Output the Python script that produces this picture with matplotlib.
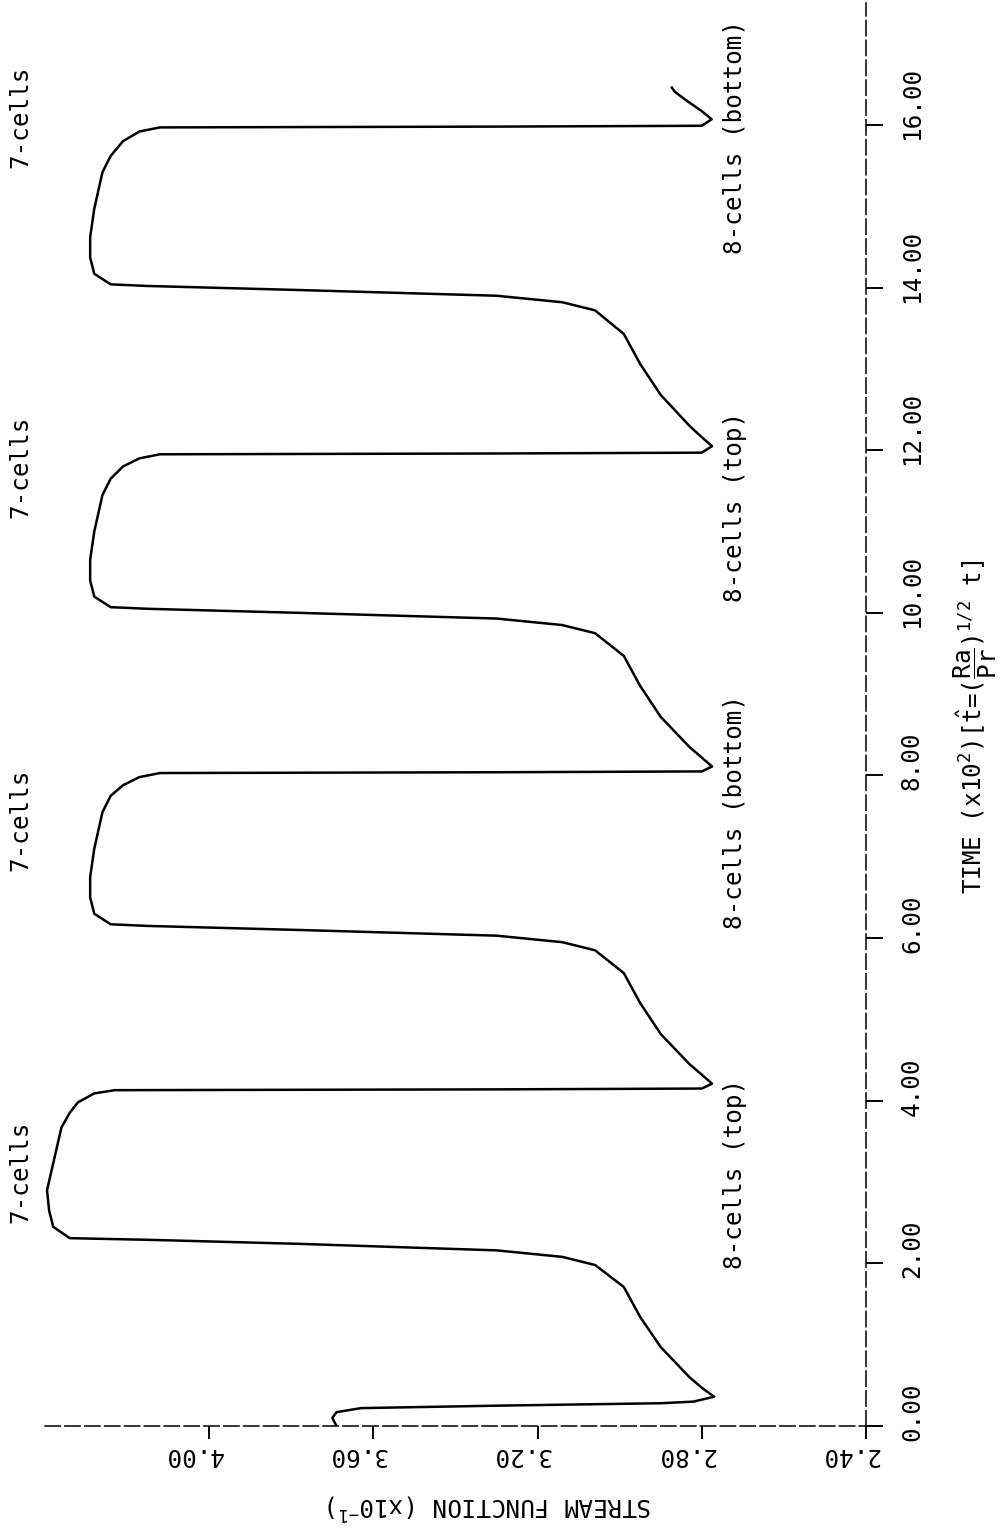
import numpy as np
import matplotlib
matplotlib.use("Agg")
import matplotlib.pyplot as plt
from matplotlib.transforms import blended_transform_factory, ScaledTranslation

# ── Style ────────────────────────────────────────────────────────────────────
plt.rcParams.update({
    "font.family": "DejaVu Sans Mono",
    "mathtext.fontset": "custom",
    "mathtext.rm": "DejaVu Sans Mono",
    "mathtext.it": "DejaVu Sans Mono",
    "mathtext.bf": "DejaVu Sans Mono:bold",
})
FS = 17.5

# ── Data: stream function vs time ───────────────────────────────────────────
t_start = [0.00, 0.10, 0.17, 0.22, 0.25, 0.28, 0.30]
psi_start = [3.69, 3.70, 3.69, 3.63, 3.30, 2.90, 2.82]

t_cycle1 = [0.36, 0.47, 0.60, 0.97, 1.34, 1.71, 1.98, 2.08, 2.16, 2.24, 2.29, 2.31,
            2.45, 2.65, 2.90, 3.23, 3.67, 3.85, 3.98, 4.09, 4.13, 4.14, 4.15, 4.21]
psi_cycle1 = [2.77, 2.80, 2.83, 2.90, 2.95, 2.99, 3.06, 3.14, 3.30, 3.78, 4.15, 4.34,
              4.38, 4.39, 4.395, 4.38, 4.36, 4.34, 4.32, 4.28, 4.23, 3.29, 2.80, 2.775]

t_cycle2 = [4.32, 4.45, 4.82, 5.20, 5.57, 5.85, 5.95, 6.03, 6.10, 6.15, 6.17,
            6.30, 6.50, 6.75, 7.10, 7.55, 7.75, 7.88, 7.98, 8.03, 8.04, 8.05, 8.11]
psi_cycle2 = [2.80, 2.83, 2.90, 2.95, 2.99, 3.06, 3.14, 3.30, 3.78, 4.15, 4.24,
              4.28, 4.29, 4.29, 4.28, 4.26, 4.24, 4.21, 4.17, 4.12, 3.29, 2.80, 2.775]

t_cycle3 = [8.22, 8.35, 8.72, 9.10, 9.47, 9.75, 9.85, 9.93, 10.00, 10.05, 10.07,
            10.20, 10.40, 10.65, 11.00, 11.45, 11.65, 11.80, 11.90, 11.95, 11.96, 11.97, 12.05]
psi_cycle3 = [2.80, 2.83, 2.90, 2.95, 2.99, 3.06, 3.14, 3.30, 3.78, 4.15, 4.24,
              4.28, 4.29, 4.29, 4.28, 4.26, 4.24, 4.21, 4.17, 4.12, 3.29, 2.80, 2.775]

t_cycle4 = [12.16, 12.30, 12.68, 13.06, 13.43, 13.72, 13.82, 13.90, 13.97, 14.02, 14.04,
            14.17, 14.37, 14.62, 14.97, 15.42, 15.62, 15.80, 15.92, 15.97, 15.98, 15.99, 16.07]
psi_cycle4 = [2.80, 2.83, 2.90, 2.95, 2.99, 3.06, 3.14, 3.30, 3.78, 4.15, 4.24,
              4.28, 4.29, 4.29, 4.28, 4.26, 4.24, 4.21, 4.17, 4.12, 3.29, 2.80, 2.776]

t_end = [16.17, 16.31, 16.41, 16.46]
psi_end = [2.80, 2.84, 2.866, 2.873]

time_ticks = [0, 2, 4, 6, 8, 10, 12, 14, 16]
time_ticklabels = ["0.00", "2.00", "4.00", "6.00", "8.00", "10.00", "12.00", "14.00", "16.00"]
psi_ticks = [4.00, 3.60, 3.20, 2.80, 2.40]
psi_ticklabels = ["4.00", "3.60", "3.20", "2.80", "2.40"]

# regime annotations: (text, time, psi)
regimes = [
    ("7-cells", 3.13, 4.46), ("7-cells", 7.45, 4.46),
    ("7-cells", 11.80, 4.46), ("7-cells", 16.10, 4.46),
    ("8-cells (top)", 3.10, 2.72), ("8-cells (bottom)", 7.55, 2.72),
    ("8-cells (top)", 11.30, 2.72), ("8-cells (bottom)", 15.85, 2.72),
]

t_all = np.concatenate([t_start, t_cycle1, t_cycle2, t_cycle3, t_cycle4, t_end])
psi_all = np.concatenate([psi_start, psi_cycle1, psi_cycle2, psi_cycle3, psi_cycle4, psi_end])

# ── Figure (plot drawn sideways, like the original plotter output) ──────────
fig = plt.figure(figsize=(10.06, 15.35), dpi=100)
ax = fig.add_axes([45 / 1006, 1 - 1426 / 1535, 821 / 1006, 1423 / 1535])

ax.plot(psi_all, t_all, color="black", lw=1.8, solid_joinstyle="round")

ax.set_xlim(4.40, 2.40)
ax.set_ylim(0, 17.5)

for s in ["top", "left"]:
    ax.spines[s].set_visible(False)
for s in ["bottom", "right"]:
    ax.spines[s].set_linewidth(1.1)
    ax.spines[s].set_linestyle((0, (10, 3)))

ax.set_xticks(psi_ticks)
ax.set_yticks(time_ticks)
ax.yaxis.tick_right()
ax.tick_params(axis="x", direction="out", length=9.5, width=1.4, labelbottom=False)
ax.tick_params(axis="y", direction="out", length=12, width=1.4, labelright=False, labelleft=False)

# tick labels (upside-down for stream function, sideways for time)
trans_x = blended_transform_factory(ax.transData, ax.transAxes) + \
    ScaledTranslation(-0.16, -0.17, fig.dpi_scale_trans)
for v, lab in zip(psi_ticks, psi_ticklabels):
    ax.text(v, 0, lab, transform=trans_x, rotation=180, ha="center", va="top",
            fontsize=FS, clip_on=False)

trans_y = blended_transform_factory(ax.transAxes, ax.transData) + \
    ScaledTranslation(0.34, -0.15, fig.dpi_scale_trans)
for v, lab in zip(time_ticks, time_ticklabels):
    ax.text(1, v, lab, transform=trans_y, rotation=90, ha="left", va="bottom",
            fontsize=FS, clip_on=False)

for txt, tv, pv in regimes:
    ax.text(pv, tv, txt, rotation=90, ha="center", va="center", fontsize=FS, clip_on=False)

# axis titles
fig.text(490 / 1006, 1 - 1506 / 1535, r"STREAM FUNCTION (x10$^{-1}$)", rotation=180,
         ha="center", va="center", fontsize=FS)
fig.text(975 / 1006, 1 - 727 / 1535,
         r"TIME (x10$^2$)[$\hat{t}$=($\dfrac{Ra}{Pr}$)$^{1/2}$ t]",
         rotation=90, ha="center", va="center", fontsize=FS)

fig.savefig("out.png", dpi=100)
